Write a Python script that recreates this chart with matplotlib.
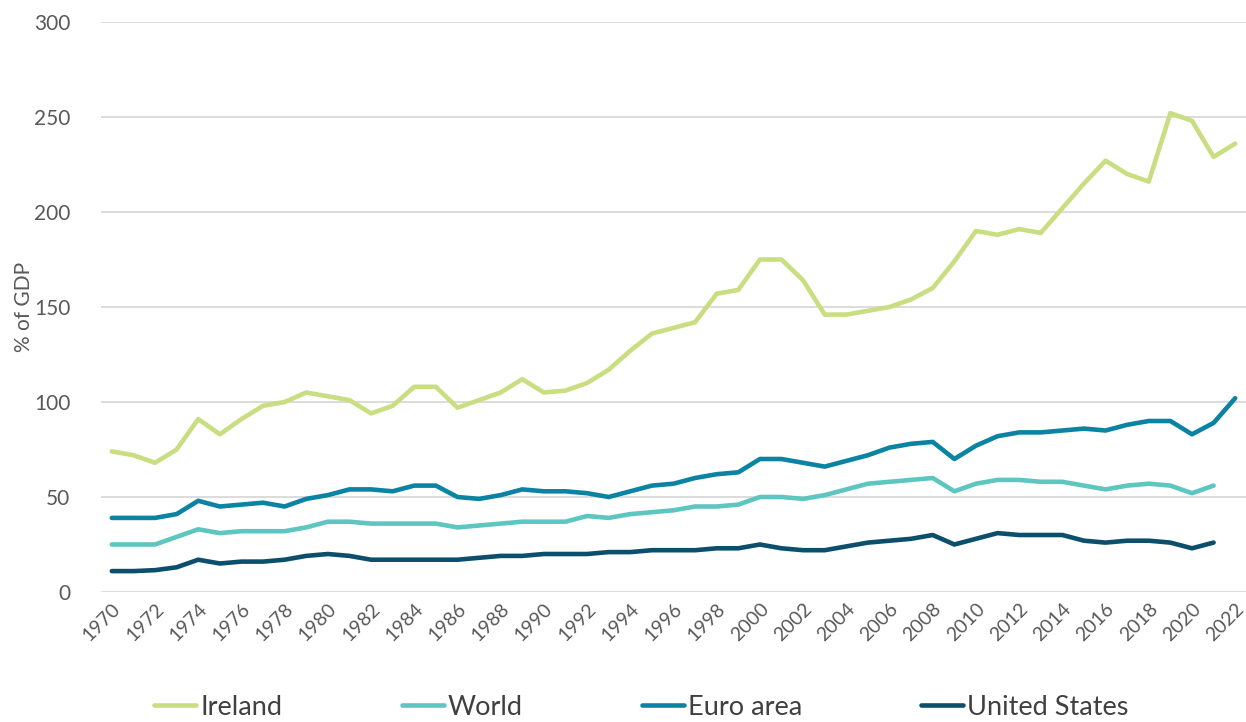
import numpy as np
import matplotlib
matplotlib.use("Agg")
import matplotlib.pyplot as plt

# #### Data (% of GDP)

years = list(range(1970, 2023))

ireland = [74, 72, 68, 75, 91, 83, 91, 98, 100, 105,
           103, 101, 94, 98, 108, 108, 97, 101, 105, 112,
           105, 106, 110, 117, 127, 136, 139, 142, 157, 159,
           175, 175, 164, 146, 146, 148, 150, 154, 160, 174,
           190, 188, 191, 189, 202, 215, 227, 220, 216, 252,
           248, 229, 236]

world = [25, 25, 25, 29, 33, 31, 32, 32, 32, 34,
         37, 37, 36, 36, 36, 36, 34, 35, 36, 37,
         37, 37, 40, 39, 41, 42, 43, 45, 45, 46,
         50, 50, 49, 51, 54, 57, 58, 59, 60, 53,
         57, 59, 59, 58, 58, 56, 54, 56, 57, 56,
         52, 56]

euro_area = [39, 39, 39, 41, 48, 45, 46, 47, 45, 49,
             51, 54, 54, 53, 56, 56, 50, 49, 51, 54,
             53, 53, 52, 50, 53, 56, 57, 60, 62, 63,
             70, 70, 68, 66, 69, 72, 76, 78, 79, 70,
             77, 82, 84, 84, 85, 86, 85, 88, 90, 90,
             83, 89, 102]

united_states = [11, 11, 11.5, 13, 17, 15, 16, 16, 17, 19,
                 20, 19, 17, 17, 17, 17, 17, 18, 19, 19,
                 20, 20, 20, 21, 21, 22, 22, 22, 23, 23,
                 25, 23, 22, 22, 24, 26, 27, 28, 30, 25,
                 28, 31, 30, 30, 30, 27, 26, 27, 27, 26,
                 23, 26]

labels = ["Ireland", "World", "Euro area", "United States"]
colors = ["#c9de80", "#5ec6c0", "#0a84a2", "#0b4f6c"]

plt.rcParams["font.family"] = ["Lato", "DejaVu Sans"]

fig = plt.figure(figsize=(12.46, 7.22), dpi=100)
ax = fig.add_axes([101 / 1246, 1 - 592 / 722, 1145 / 1246, 570 / 722])

series = [ireland, world, euro_area, united_states]
for vals, lab, col in zip(series, labels, colors):
    ax.plot(years[:len(vals)], vals, color=col, lw=3.3, label=lab,
            solid_joinstyle="round", solid_capstyle="round")

ax.set_xlim(1969.5, 2022.5)
ax.set_ylim(0, 300)
ax.set_yticks(np.arange(0, 301, 50))
ax.set_xticks(years[::2])
ax.set_xticklabels([str(y) for y in years[::2]], rotation=45,
                   ha="right", va="top", rotation_mode="anchor")
ax.grid(axis="y", color="#d9d9d9", lw=1.3)
ax.set_axisbelow(True)
for s in ax.spines.values():
    s.set_visible(False)
ax.tick_params(axis="both", length=0, labelcolor="#595959")
ax.tick_params(axis="y", pad=22, labelsize=15)
ax.tick_params(axis="x", pad=6, labelsize=14)
ax.set_ylabel("% of GDP", fontsize=15, color="#595959", labelpad=0)

ax.legend(loc="center", bbox_to_anchor=(0.5 - 32 / 1145, -0.202), ncol=4,
          frameon=False, fontsize=19.5, handlelength=1.55, handletextpad=0.15,
          columnspacing=4.4, labelcolor="#404040")

fig.savefig("out.png", dpi=100)
